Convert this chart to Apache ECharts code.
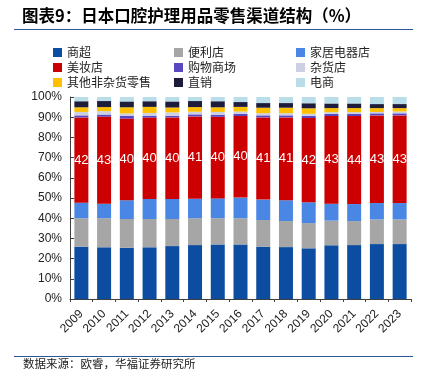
<!DOCTYPE html>
<html><head><meta charset="utf-8">
<script src="https://cdn.jsdelivr.net/npm/echarts@6/dist/echarts.min.js"></script>
<style>html,body{margin:0;padding:0;background:#fff}#c{width:428px;height:381px}</style>
</head><body><div id="c"></div>
<script>
const years = ['2009','2010','2011','2012','2013','2014','2015','2016','2017','2018','2019','2020','2021','2022','2023'];
const yTicks = ['0%','10%','20%','30%','40%','50%','60%','70%','80%','90%','100%'];
const supermarket = [25.9,25.6,25.4,25.6,26.2,26.7,27.0,27.0,25.9,25.7,25.1,26.6,26.7,27.2,27.2];
const convenience = [14.1,14.4,14.2,14.0,13.4,13.3,13.0,13.0,13.2,12.9,12.5,12.2,11.9,12.2,12.2];
const homeElectric = [7.7,7.2,9.3,9.9,9.9,9.6,9.8,10.2,10.1,10.3,10.3,8.4,8.4,8.1,8.1];
const beauty = [42.2,43.1,40.4,40.3,40.4,40.8,40.4,40.4,40.7,41.0,41.7,43.4,43.6,43.4,43.4];
const mall = [1.0,1.0,1.3,0.8,0.8,1.0,1.0,1.0,1.0,1.0,1.1,1.0,1.0,1.0,1.0];
const grocery = [1.7,1.7,1.3,1.5,1.7,1.3,1.4,1.2,1.1,1.1,1.0,0.9,0.9,0.7,0.9];
const otherNonGrocery = [2.3,2.0,3.0,3.0,2.4,2.3,2.3,2.3,2.7,2.7,2.7,2.0,2.0,1.9,1.7];
const directSales = [3.0,3.0,2.9,2.8,3.0,3.0,3.0,2.4,2.3,2.3,2.5,2.3,2.3,2.0,2.0];
const ecommerce = [2.1,2.0,2.2,2.1,2.2,2.0,2.1,2.5,3.0,3.0,3.1,3.2,3.2,3.5,3.5];

const names = ['商超','便利店','家居电器店','美妆店','购物商场','杂货店','其他非杂货零售','直销','电商'];
const values = [supermarket,convenience,homeElectric,beauty,mall,grocery,otherNonGrocery,directSales,ecommerce];
const colors = ['#0c4da2','#a6a6a6','#4a86e3','#cc0000','#5a48c2','#ccd0e2','#ffc000','#1d1c3b','#b9dee9'];

const chart = echarts.init(document.getElementById('c'));
const axisFont = 'Liberation Sans, Arial, sans-serif';
const cjk = '"Noto Sans CJK SC", sans-serif';

const series = names.map((n,i)=>({
  name:n, type:'bar', stack:'total', barWidth:14,
  itemStyle:{color:colors[i]},
  data: values[i],
  label: i===3 ? {show:true, position:'inside', color:'#fff', fontSize:13, fontFamily:axisFont,
                 formatter:p=>Math.round(p.value)} : {show:false}
}));

function legend(items, left){
  return {data:items, orient:'vertical', left:left, top:41.5, icon:'rect',
    itemWidth:9, itemHeight:9, itemGap:3,
    textStyle:{fontSize:12, lineHeight:12, color:'#222', fontFamily:cjk}};
}

chart.setOption({
  animation:false,
  legend:[legend(['商超','美妆店','其他非杂货零售'],48), legend(['便利店','购物商场','直销'],169), legend(['家居电器店','杂货店','电商'],291)],
  grid:{left:70, right:17, top:97, bottom:82},
  xAxis:{type:'category', data:years,
    axisLine:{lineStyle:{color:'#404040'}},
    axisTick:{show:true, length:3, lineStyle:{color:'#404040'}},
    axisLabel:{rotate:45, fontSize:12, color:'#222', fontFamily:axisFont, margin:13, interval:0}},
  yAxis:{type:'value', min:0, max:100, interval:10,
    axisLine:{show:true, lineStyle:{color:'#404040'}},
    axisTick:{show:true, inside:true, length:4, lineStyle:{color:'#404040'}},
    splitLine:{show:false},
    axisLabel:{fontSize:12, color:'#222', fontFamily:axisFont, margin:8,
      formatter:(v)=>yTicks[Math.round(v/10)]}},
  series: series,
  graphic:[
    {type:'text', left:22, top:7, style:{text:'图表9：日本口腔护理用品零售渠道结构（%）', font:'bold 16.5px "Noto Sans CJK SC"', fill:'#000'}},
    {type:'line', shape:{x1:14,y1:29.5,x2:413,y2:29.5}, style:{stroke:'#2e5597', lineWidth:1}},
    {type:'line', shape:{x1:14,y1:356.5,x2:413,y2:356.5}, style:{stroke:'#2e5597', lineWidth:1}},
    {type:'text', left:23, top:358, style:{text:'数据来源：欧睿，华福证券研究所', font:'11.5px "Noto Sans CJK SC"', fill:'#222'}}
  ]
});
</script></body></html>
